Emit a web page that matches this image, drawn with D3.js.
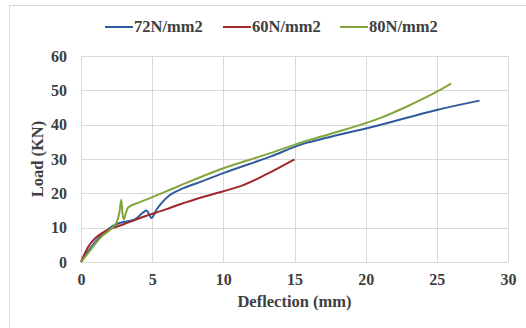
<!DOCTYPE html>
<html>
<head>
<meta charset="UTF-8">
<script src="https://d3js.org/d3.v7.min.js"></script>
<style>
  body { margin: 0; background: #fff; }
  svg text { font-family: "Times New Roman", "Liberation Serif", "DejaVu Serif", serif; font-weight: bold; fill: #404040; }
</style>
</head>
<body>
<div class="chart"></div>
<script>
// series names and colours
var seriesNames = ["72N/mm2", "60N/mm2", "80N/mm2"];
var seriesColors = ["#2f5b9b", "#a0282c", "#82a53c"];

// deflection (mm) / load (KN)
var defl72 = [0, 0.5, 1, 1.5, 2, 2.6, 3.2, 3.8, 4.3, 4.6, 4.8, 4.95, 5.3, 5.8, 6.25, 7.2, 8.5, 10, 13.3, 15.6, 17.5, 21, 25, 28];
var load72 = [0, 3.2, 5.8, 8, 9.8, 11.2, 11.8, 12.4, 14.2, 15, 13.8, 12.8, 15.2, 17.8, 19.5, 21.5, 23.5, 25.9, 30.7, 34.4, 36.4, 39.9, 44.3, 47];

var defl60 = [0, 0.5, 1, 1.5, 2.1, 3, 4, 4.85, 6, 6.8, 8, 10, 11.4, 13, 15];
var load60 = [0, 4.4, 6.9, 8.5, 9.7, 11, 12.6, 13.8, 15.4, 16.6, 18.2, 20.6, 22.4, 25.5, 29.9];

var defl80 = [0, 0.5, 1, 1.5, 2.1, 2.5, 2.7, 2.83, 2.92, 3.0, 3.1, 3.3, 4, 4.85, 6.8, 10, 13.3, 15.6, 17.5, 21, 22.9, 25, 26];
var load80 = [0, 2.6, 5.3, 7.6, 9.6, 11.5, 14.5, 18.1, 14, 12.4, 13.5, 15.8, 17.2, 18.6, 22, 27.3, 31.7, 35, 37.3, 41.9, 45.3, 49.6, 52];

var xTicks = [0, 5, 10, 15, 20, 25, 30];
var yTicks = [0, 10, 20, 30, 40, 50, 60];

var width = 526, height = 328;
var plotL = 81, plotR = 508, plotT = 56, plotB = 262;

var svg = d3.select(".chart").append("svg")
  .attr("width", width).attr("height", height);

// outer chart border
svg.append("rect")
  .attr("x", 9.5).attr("y", 5.5)
  .attr("width", 530).attr("height", 340)
  .attr("fill", "none").attr("stroke", "#d9d9d9");

var x = d3.scaleLinear().domain([0, 30]).range([plotL, plotR]);
var y = d3.scaleLinear().domain([0, 60]).range([plotB, plotT]);

// grid
svg.append("g").selectAll("line").data(xTicks).enter().append("line")
  .attr("x1", function(d) { return Math.round(x(d)) + 0.5; })
  .attr("x2", function(d) { return Math.round(x(d)) + 0.5; })
  .attr("y1", plotT).attr("y2", plotB)
  .attr("stroke", "#d9d9d9");
svg.append("g").selectAll("line").data(yTicks).enter().append("line")
  .attr("y1", function(d) { return Math.round(y(d)) + 0.5; })
  .attr("y2", function(d) { return Math.round(y(d)) + 0.5; })
  .attr("x1", plotL).attr("x2", plotR)
  .attr("stroke", "#d9d9d9");

// axes
var xAxis = svg.append("g")
  .attr("transform", "translate(0," + plotB + ")")
  .call(d3.axisBottom(x).tickValues(xTicks).tickSize(0).tickPadding(12));
xAxis.select(".domain").remove();
xAxis.attr("font-family", null).attr("font-size", null);
xAxis.selectAll("text").style("font-size", "16px");

var yAxis = svg.append("g")
  .attr("transform", "translate(" + plotL + ",0)")
  .call(d3.axisLeft(y).tickValues(yTicks).tickSize(0).tickPadding(14));
yAxis.select(".domain").remove();
yAxis.attr("font-family", null).attr("font-size", null);
yAxis.selectAll("text").style("font-size", "16px");

svg.append("text")
  .attr("x", (plotL + plotR) / 2).attr("y", 307)
  .attr("text-anchor", "middle")
  .style("font-size", "16.5px")
  .text("Deflection (mm)");

svg.append("text")
  .attr("transform", "translate(43," + (plotT + plotB) / 2 + ") rotate(-90)")
  .attr("text-anchor", "middle")
  .style("font-size", "16.5px")
  .text("Load (KN)");

// lines
var allSeries = [
  d3.zip(defl72, load72),
  d3.zip(defl60, load60),
  d3.zip(defl80, load80)
];
var line = d3.line()
  .x(function(d) { return x(d[0]); })
  .y(function(d) { return y(d[1]); })
  .curve(d3.curveMonotoneX);

allSeries.forEach(function(s, i) {
  svg.append("path")
    .datum(s)
    .attr("d", line)
    .attr("fill", "none")
    .attr("stroke", seriesColors[i])
    .attr("stroke-width", 2);
});

// legend
var legendX = [105, 223, 340];
var leg = svg.append("g");
seriesNames.forEach(function(n, i) {
  leg.append("line")
    .attr("x1", legendX[i]).attr("x2", legendX[i] + 28)
    .attr("y1", 27).attr("y2", 27)
    .attr("stroke", seriesColors[i]).attr("stroke-width", 2);
  leg.append("text")
    .attr("x", legendX[i] + 29).attr("y", 32)
    .style("font-size", "16.5px")
    .text(n);
});
</script>
</body>
</html>
